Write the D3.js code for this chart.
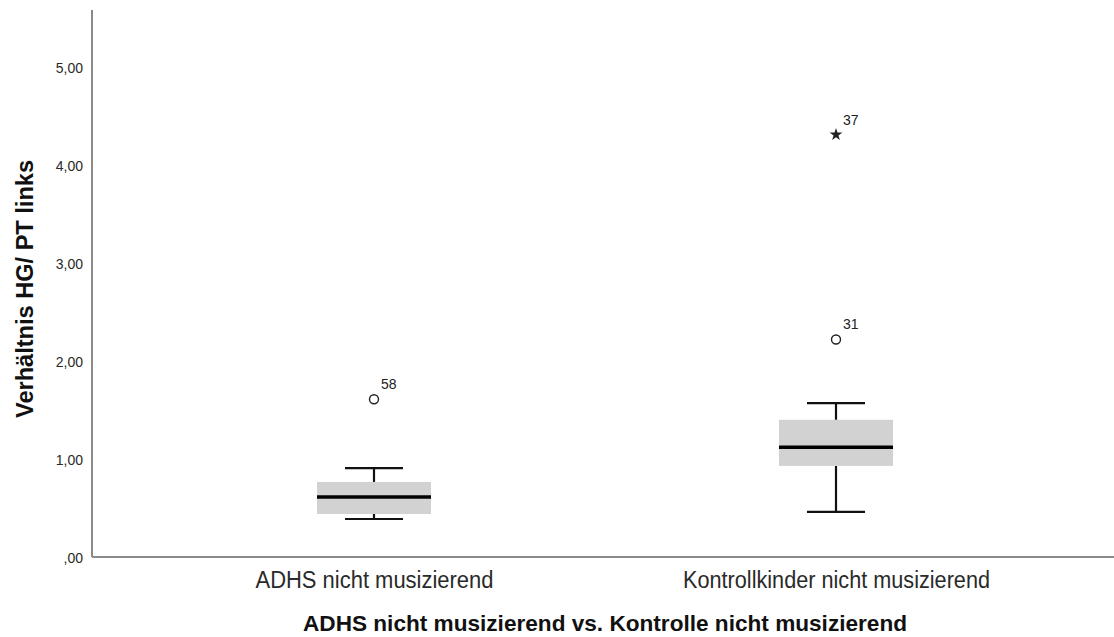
<!DOCTYPE html>
<html>
<head>
<meta charset="utf-8">
<script src="https://cdn.jsdelivr.net/npm/d3@7"></script>
<style>
  html, body { margin: 0; padding: 0; background: #fff; }
  svg { display: block; }
</style>
</head>
<body>
<svg id="chart" width="1114" height="637"></svg>
<script>
// Groups on the x axis
const categories = ["ADHS nicht musizierend", "Kontrollkinder nicht musizierend"];
// Five-number summaries per group
const whiskerLow  = [0.398, 0.47];
const q1          = [0.449, 0.94];
const median      = [0.622, 1.13];
const q3          = [0.776, 1.41];
const whiskerHigh = [0.918, 1.58];
// Flagged cases: group index, value, case number, marker kind
const outlierGroup = [0, 1, 1];
const outlierValue = [1.62, 2.23, 4.32];
const outlierLabel = ["58", "31", "37"];
const outlierKind  = ["circle", "circle", "star"];
// Y ticks
const yTicks = [0, 1, 2, 3, 4, 5];

const svg = d3.select("#chart");
const plotLeft = 92, plotRight = 1114, plotTop = 10, plotBottom = 558;

const y = d3.scaleLinear().domain([0, 5.592]).range([plotBottom, plotTop]);
const xc = d3.scalePoint().domain(categories).range([374, 836]);

const fmt = v => (v === 0 ? "" : String(Math.floor(v))) + "," + d3.format("02d")(Math.round((v % 1) * 100));

// Y axis labels (no tick marks)
const yAxis = d3.axisLeft(y).tickValues(yTicks).tickSize(0).tickPadding(9).tickFormat(fmt);
const gy = svg.append("g").attr("transform", `translate(${plotLeft},0)`).call(yAxis);
gy.select(".domain").remove();
gy.selectAll("text")
  .attr("font-family", "Arial, 'Liberation Sans', sans-serif")
  .attr("font-size", 14).attr("fill", "#2a2a2a");

// X axis category labels
const xAxis = d3.axisBottom(xc).tickSize(0).tickPadding(14);
const gx = svg.append("g").attr("transform", `translate(0,${plotBottom})`).call(xAxis);
gx.select(".domain").remove();
gx.selectAll("text")
  .attr("dy", null).attr("y", 30)
  .attr("font-family", "'Liberation Sans Narrow', 'Arial Narrow', Arial, 'Liberation Sans', sans-serif")
  .attr("font-size", 23).attr("fill", "#2a2a2a")
  .attr("textLength", (d, i) => [238, 307][i]).attr("lengthAdjust", "spacingAndGlyphs");

// Axis lines
svg.append("line").attr("x1", plotLeft).attr("x2", plotRight).attr("y1", plotBottom - 1).attr("y2", plotBottom - 1)
  .attr("stroke", "#8a8a8a").attr("stroke-width", 2);
svg.append("line").attr("x1", plotLeft).attr("x2", plotLeft).attr("y1", plotTop).attr("y2", plotBottom - 1)
  .attr("stroke", "#8a8a8a").attr("stroke-width", 2);

// Boxes and whiskers
const boxW = 114, capW = 58;
const groups = svg.append("g").selectAll("g").data(categories).join("g");

groups.append("line")
  .attr("x1", d => xc(d)).attr("x2", d => xc(d))
  .attr("y1", (d, i) => y(whiskerHigh[i])).attr("y2", (d, i) => y(q3[i]))
  .attr("stroke", "#111").attr("stroke-width", 2.2);
groups.append("line")
  .attr("x1", d => xc(d)).attr("x2", d => xc(d))
  .attr("y1", (d, i) => y(q1[i])).attr("y2", (d, i) => y(whiskerLow[i]))
  .attr("stroke", "#111").attr("stroke-width", 2.2);
groups.append("line")
  .attr("x1", d => xc(d) - capW / 2).attr("x2", d => xc(d) + capW / 2)
  .attr("y1", (d, i) => y(whiskerHigh[i])).attr("y2", (d, i) => y(whiskerHigh[i]))
  .attr("stroke", "#111").attr("stroke-width", 2.2);
groups.append("line")
  .attr("x1", d => xc(d) - capW / 2).attr("x2", d => xc(d) + capW / 2)
  .attr("y1", (d, i) => y(whiskerLow[i])).attr("y2", (d, i) => y(whiskerLow[i]))
  .attr("stroke", "#111").attr("stroke-width", 2.2);
groups.append("rect")
  .attr("x", d => xc(d) - boxW / 2).attr("width", boxW)
  .attr("y", (d, i) => y(q3[i])).attr("height", (d, i) => y(q1[i]) - y(q3[i]))
  .attr("fill", "#d2d2d2");
groups.append("line")
  .attr("x1", d => xc(d) - boxW / 2).attr("x2", d => xc(d) + boxW / 2)
  .attr("y1", (d, i) => y(median[i])).attr("y2", (d, i) => y(median[i]))
  .attr("stroke", "#000").attr("stroke-width", 3.5);

// Outliers and extremes with case numbers
const pts = svg.append("g");
outlierValue.forEach((v, i) => {
  const cx = xc(categories[outlierGroup[i]]);
  const cy = y(v);
  if (outlierKind[i] === "circle") {
    pts.append("circle").attr("cx", cx).attr("cy", cy).attr("r", 4.5)
      .attr("fill", "none").attr("stroke", "#222").attr("stroke-width", 1.4);
  } else {
    pts.append("path").attr("d", d3.symbol(d3.symbolStar, 50)())
      .attr("transform", `translate(${cx},${cy})`).attr("fill", "#222");
  }
  pts.append("text").attr("x", cx + 7).attr("y", cy - 10)
    .attr("font-family", "Arial, 'Liberation Sans', sans-serif")
    .attr("font-size", 14).attr("fill", "#222").text(outlierLabel[i]);
});

// Axis titles
svg.append("text")
  .attr("transform", `translate(33,289) rotate(-90)`)
  .attr("text-anchor", "middle")
  .attr("font-family", "Arial, 'Liberation Sans', sans-serif")
  .attr("font-weight", "bold").attr("font-size", 23).attr("fill", "#111")
  .attr("textLength", 258).attr("lengthAdjust", "spacingAndGlyphs")
  .text("Verhältnis HG/ PT links");

svg.append("text")
  .attr("x", 605).attr("y", 631).attr("text-anchor", "middle")
  .attr("font-family", "Arial, 'Liberation Sans', sans-serif")
  .attr("font-weight", "bold").attr("font-size", 22).attr("fill", "#111")
  .attr("textLength", 604).attr("lengthAdjust", "spacingAndGlyphs")
  .text("ADHS nicht musizierend vs. Kontrolle nicht musizierend");
</script>
</body>
</html>
